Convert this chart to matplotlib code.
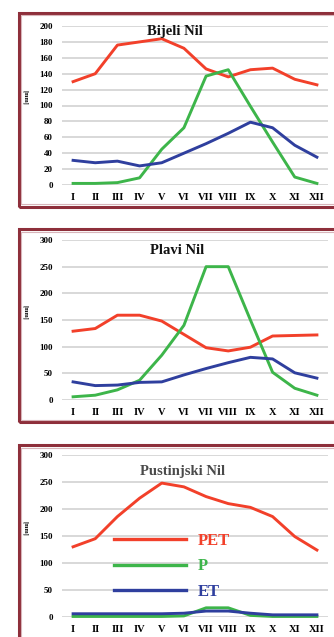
"""Mjesečni vodni bilans za tri dijela sliva Nila (PET, P, ET)."""

import matplotlib
matplotlib.use("Agg")
import matplotlib.pyplot as plt
from matplotlib.patches import Rectangle

months = ["I", "II", "III", "IV", "V", "VI", "VII", "VIII", "IX", "X", "XI", "XII"]

bijeli_pet = [130, 140, 176, 180, 184, 172, 146, 136, 145, 147, 133, 126]
bijeli_p = [2, 2, 3, 9, 45, 72, 137, 145, 99, 54, 10, 2]
bijeli_et = [31, 28, 30, 24, 28, 40, 52, 65, 79, 72, 50, 35]

plavi_pet = [129, 134, 159, 159, 148, 123, 98, 92, 99, 120, 121, 122]
plavi_p = [6, 9, 19, 37, 84, 140, 250, 250, 150, 52, 22, 9]
plavi_et = [34, 27, 28, 33, 34, 47, 59, 70, 80, 77, 51, 41]

pustinjski_pet = [130, 145, 186, 220, 248, 241, 223, 210, 203, 186, 149, 124]
pustinjski_p = [1, 1, 1, 1, 1, 2, 17, 17, 3, 1, 1, 1]
pustinjski_et = [6, 6, 6, 6, 6, 7, 11, 11, 7, 4, 4, 4]

RED = "#f2402a"
GREEN = "#3db54a"
BLUE = "#2f3f9e"
BORDER = "#8e2f3b"
SERIF = "Liberation Serif"

W, H = 334, 637


def px_box(x0, y0, x1, y1):
    """Pretvara piksele (od gornjeg lijevog ugla) u koordinate figure."""
    return [x0 / W, 1 - y1 / H, (x1 - x0) / W, (y1 - y0) / H]


def draw_frame(fig, y0, y1):
    # dvostruki okvir oko panela
    x0, x1 = 19, 345
    fig.add_artist(Rectangle((x0 / W, 1 - y1 / H), (x1 - x0) / W, (y1 - y0) / H,
                             transform=fig.transFigure, fill=False,
                             edgecolor=BORDER, linewidth=2.2))
    fig.add_artist(Rectangle(((x0 + 2.5) / W, 1 - (y1 - 2.5) / H),
                             (x1 - x0 - 5) / W, (y1 - y0 - 5) / H,
                             transform=fig.transFigure, fill=False,
                             edgecolor="#d8b5ba", linewidth=0.8))


def draw_panel(fig, box, pet, p, et, title, ymax, ystep, title_xy, title_color="#111111"):
    ax = fig.add_axes(box)
    x = range(len(months))
    ax.plot(x, pet, color=RED, linewidth=2.1, label="PET", clip_on=False, zorder=3)
    ax.plot(x, p, color=GREEN, linewidth=2.1, label="P", clip_on=False, zorder=3)
    ax.plot(x, et, color=BLUE, linewidth=2.1, label="ET", clip_on=False, zorder=4)

    ax.set_xlim(-0.5, 11.5)
    ax.set_ylim(0, ymax)
    ax.set_yticks(range(0, ymax + 1, ystep))
    ax.set_xticks(list(x))
    ax.set_xticklabels(months)
    ax.tick_params(length=0)
    ax.tick_params(axis="y", pad=6.5)
    ax.tick_params(axis="x", pad=5.5)
    for lbl in ax.get_yticklabels():
        lbl.set_fontfamily(SERIF)
        lbl.set_fontweight("bold")
        lbl.set_fontsize(6.5)
    for lbl in ax.get_xticklabels():
        lbl.set_fontfamily(SERIF)
        lbl.set_fontweight("bold")
        lbl.set_fontsize(7.5)

    ax.grid(axis="y", color="#d2d2d2", linewidth=1.2)
    ax.set_axisbelow(True)
    for s in ax.spines.values():
        s.set_visible(False)

    ax.set_ylabel("[mm]", fontsize=4.5, fontweight="bold", fontfamily=SERIF,
                  rotation=-90, labelpad=1)
    ax.yaxis.set_label_coords(-0.15, 0.55)

    fig.text(title_xy[0] / W, 1 - title_xy[1] / H, title, ha="center", va="center",
             fontsize=10.5, fontweight="bold", fontfamily=SERIF, color=title_color)
    return ax


fig = plt.figure(figsize=(W / 100, H / 100), dpi=100)
fig.patch.set_facecolor("white")

draw_frame(fig, 13, 207)
draw_frame(fig, 229, 422)
draw_frame(fig, 445, 660)

draw_panel(fig, px_box(62, 26, 328, 185), bijeli_pet, bijeli_p, bijeli_et,
           "Bijeli Nil", 200, 20, (175, 31))
draw_panel(fig, px_box(62, 240, 328, 400), plavi_pet, plavi_p, plavi_et,
           "Plavi Nil", 300, 50, (177, 251))
ax3 = draw_panel(fig, px_box(62, 455, 328, 617), pustinjski_pet, pustinjski_p,
                 pustinjski_et, "Pustinjski Nil", 300, 50, (183, 471),
                 title_color="#4a4a4a")

leg = ax3.legend(loc="upper left", bbox_to_anchor=(0.14, 0.61), frameon=False,
                 handlelength=4.3, handletextpad=0.7, labelspacing=0.55,
                 prop={"family": SERIF, "weight": "bold", "size": 12},
                 labelcolor="linecolor")
for h in leg.get_lines():
    h.set_linewidth(2.4)

plt.savefig("out.png", dpi=100)
plt.close()
